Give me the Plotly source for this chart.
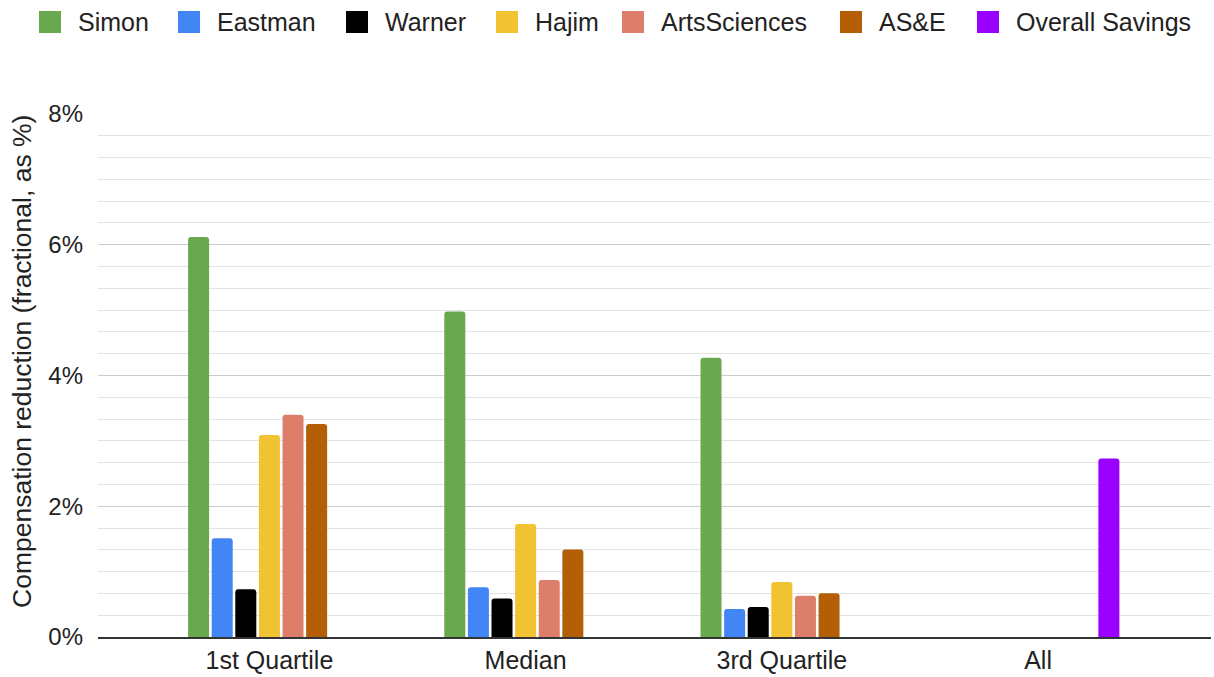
import plotly.graph_objects as go

# Compensation reduction by school, as a percentage of pay
categories = ["1st Quartile", "Median", "3rd Quartile", "All"]

simon = [6.12, 4.98, 4.27, None]
eastman = [1.51, 0.76, 0.43, None]
warner = [0.73, 0.59, 0.46, None]
hajim = [3.09, 1.73, 0.84, None]
arts_sciences = [3.40, 0.87, 0.63, None]
ase = [3.26, 1.34, 0.67, None]
overall_savings = [None, None, None, 2.73]

series_names = ["Simon", "Eastman", "Warner", "Hajim", "ArtsSciences", "AS&E", "Overall Savings"]
series_values = [simon, eastman, warner, hajim, arts_sciences, ase, overall_savings]
series_colors = ["#6aa84f", "#4285f4", "#000000", "#f1c232", "#dd7e6b", "#b45f06", "#9900ff"]

y_ticks = [0, 2, 4, 6, 8]
y_tick_text = ["0%", "2%", "4%", "6%", "8%"]

FONT = "Liberation Sans, Arial, Helvetica, sans-serif"
TEXT = "#222222"

W, H = 1214, 677
L, R, T, B = 98, 3, 114, 40

fig = go.Figure()
for name, vals, color in zip(series_names, series_values, series_colors):
    fig.add_trace(go.Bar(
        name=name, x=categories, y=vals,
        marker=dict(color=color, line=dict(width=0), cornerradius=3),
        showlegend=False,
    ))

# custom legend row across the top
def px_x(px):
    return (px - L) / (W - L - R)

def px_y(py):
    return (H - B - py) / (H - T - B)

legend_square_left = [39, 178, 346, 496, 622, 840, 977]
shapes = []
annotations = []
for name, color, sx in zip(series_names, series_colors, legend_square_left):
    shapes.append(dict(
        type="rect", xref="paper", yref="paper",
        x0=px_x(sx), x1=px_x(sx + 22), y0=px_y(33), y1=px_y(11),
        fillcolor=color, line=dict(width=0), layer="above",
    ))
    annotations.append(dict(
        text=name, xref="paper", yref="paper",
        x=px_x(sx + 37), y=px_y(22), xanchor="left", yanchor="middle",
        showarrow=False, font=dict(family=FONT, size=25, color=TEXT),
    ))

annotations.append(dict(
    text="Compensation reduction (fractional, as %)",
    xref="paper", yref="paper", x=px_x(22), y=px_y(362),
    xanchor="center", yanchor="middle", textangle=-90, showarrow=False,
    font=dict(family=FONT, size=26.5, color=TEXT),
))

fig.update_layout(
    width=W, height=H,
    margin=dict(l=L, r=R, t=T, b=B, pad=0),
    paper_bgcolor="white", plot_bgcolor="white",
    barmode="group", bargap=0.355, bargroupgap=0.11,
    font=dict(family=FONT, size=24, color=TEXT),
    shapes=shapes, annotations=annotations,
    xaxis=dict(
        range=[-0.669, 3.675], showgrid=False, zeroline=False,
        showline=True, linecolor="#333333", linewidth=2,
        ticks="", tickfont=dict(size=25, color=TEXT),
    ),
    yaxis=dict(
        range=[0, 8], tickvals=y_ticks, ticktext=y_tick_text,
        showgrid=True, gridcolor="#cccccc", gridwidth=1,
        minor=dict(dtick=1 / 3, showgrid=True, gridcolor="#e3e3e3", gridwidth=1),
        zeroline=False, showline=False, ticks="",
        ticklabelstandoff=14, tickfont=dict(size=24, color=TEXT),
    ),
)

fig.write_html("out.html")
